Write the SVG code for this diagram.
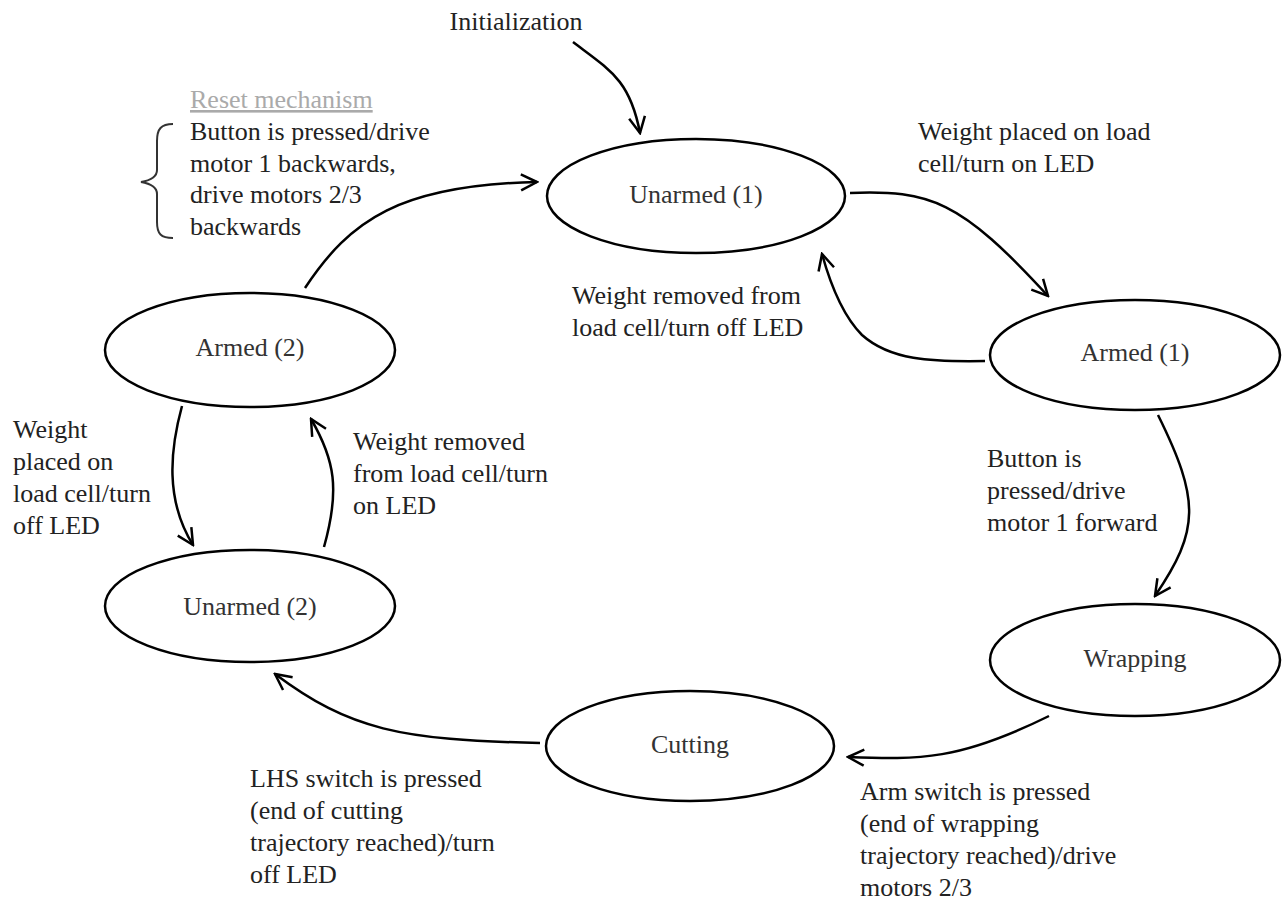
<svg xmlns="http://www.w3.org/2000/svg" width="1282" height="901" viewBox="0 0 1282 901">
<defs>
<marker id="arr" viewBox="0 0 20 20" refX="18" refY="10" markerWidth="20" markerHeight="20" markerUnits="userSpaceOnUse" orient="auto">
<path d="M2 2 L18 10 L2 18" fill="none" stroke="#000" stroke-width="2.5"/>
</marker>
<style>
.st ellipse{fill:#fff;stroke:#000;stroke-width:2.5}
.st text{font-family:"Liberation Serif",serif;font-size:26px;fill:#333;text-anchor:middle}
.lbl{font-family:"Liberation Serif",serif;font-size:26px;fill:#222}
.e{fill:none;stroke:#000;stroke-width:2.5;marker-end:url(#arr)}
</style>
</defs>
<rect width="1282" height="901" fill="#fff"/>
<g id="connectors">
<path class="e" d="M573 42 C610 70 630 80 640 133"/>
<path class="e" d="M850 193 C930 190 960 200 1048 296"/>
<path class="e" d="M985 361 C930 362 890 360 862 335 C845 318 832 290 822 254"/>
<path class="e" d="M1158 415 C1200 500 1200 530 1155 596"/>
<path class="e" d="M1049 716 C960 760 920 760 848 757"/>
<path class="e" d="M540 743 C400 740 350 730 275 674"/>
<path class="e" d="M182 406 C170 450 165 500 193 545"/>
<path class="e" d="M324 547 C340 490 335 460 311 419"/>
<path class="e" d="M305 288 C350 220 400 185 537 182"/>
</g>
<g id="unarmed1" class="st"><ellipse cx="696" cy="196" rx="149" ry="57"/><text x="696" y="203">Unarmed (1)</text></g>
<g id="armed1" class="st"><ellipse cx="1135" cy="355" rx="145" ry="55"/><text x="1135" y="361">Armed (1)</text></g>
<g id="armed2" class="st"><ellipse cx="250" cy="350" rx="145" ry="57"/><text x="250" y="356">Armed (2)</text></g>
<g id="unarmed2" class="st"><ellipse cx="250" cy="606" rx="145" ry="56"/><text x="250" y="615">Unarmed (2)</text></g>
<g id="wrapping" class="st"><ellipse cx="1135" cy="660" rx="145" ry="56"/><text x="1135" y="667">Wrapping</text></g>
<g id="cutting" class="st"><ellipse cx="690" cy="746" rx="144" ry="55"/><text x="690" y="753">Cutting</text></g>
<g id="labels">
<text class="lbl" x="516" y="30" text-anchor="middle">Initialization</text>
<text class="lbl" x="190" y="108" style="fill:#aaa" text-decoration="underline">Reset mechanism</text>
<text class="lbl" x="190" y="140">Button is pressed/drive</text>
<text class="lbl" x="190" y="172">motor 1 backwards,</text>
<text class="lbl" x="190" y="203">drive motors 2/3</text>
<text class="lbl" x="190" y="235">backwards</text>
<path d="M173 124 C161 124 157 129 157 141 L157 170 C157 176 153 180 141 182 C153 184 157 188 157 194 L157 222 C157 234 161 238 173 238" fill="none" stroke="#333" stroke-width="2"/>
<text class="lbl" x="918" y="140">Weight placed on load</text>
<text class="lbl" x="918" y="172">cell/turn on LED</text>
<text class="lbl" x="572" y="304">Weight removed from</text>
<text class="lbl" x="572" y="336">load cell/turn off LED</text>
<text class="lbl" x="987" y="467">Button is</text>
<text class="lbl" x="987" y="499">pressed/drive</text>
<text class="lbl" x="987" y="531">motor 1 forward</text>
<text class="lbl" x="860" y="800">Arm switch is pressed</text>
<text class="lbl" x="860" y="832">(end of wrapping</text>
<text class="lbl" x="860" y="864">trajectory reached)/drive</text>
<text class="lbl" x="860" y="896">motors 2/3</text>
<text class="lbl" x="250" y="787">LHS switch is pressed</text>
<text class="lbl" x="250" y="819">(end of cutting</text>
<text class="lbl" x="250" y="851">trajectory reached)/turn</text>
<text class="lbl" x="250" y="883">off LED</text>
<text class="lbl" x="13" y="438">Weight</text>
<text class="lbl" x="13" y="470">placed on</text>
<text class="lbl" x="13" y="502">load cell/turn</text>
<text class="lbl" x="13" y="534">off LED</text>
<text class="lbl" x="353" y="450">Weight removed</text>
<text class="lbl" x="353" y="482">from load cell/turn</text>
<text class="lbl" x="353" y="514">on LED</text>
</g>
</svg>
